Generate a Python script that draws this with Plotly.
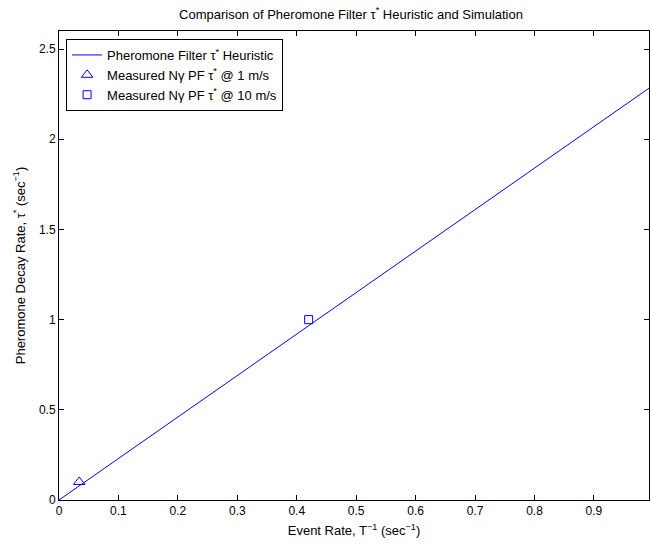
import plotly.graph_objects as go

# Data
line_x = [0.0, 1.0]
line_y = [0.0, 2.3]
meas1_x = [0.034]
meas1_y = [0.1]
meas10_x = [0.42]
meas10_y = [1.0]
x_ticks = [0, 0.1, 0.2, 0.3, 0.4, 0.5, 0.6, 0.7, 0.8, 0.9]
y_ticks = [0, 0.5, 1, 1.5, 2, 2.5]

BLUE = "rgb(0,0,255)"
FONT = "Liberation Sans, Arial, Helvetica, sans-serif"
FS = 12
FT = 13

fig = go.Figure()
fig.add_trace(go.Scatter(x=line_x, y=line_y, mode="lines",
                         line=dict(color=BLUE, width=1),
                         name="Pheromone Filter τ<sup>*</sup> Heuristic"))
fig.add_trace(go.Scatter(x=meas1_x, y=meas1_y, mode="markers",
                         marker=dict(symbol="triangle-up-open", size=10, color=BLUE,
                                     line=dict(width=1, color=BLUE)),
                         name="Measured Nγ PF τ<sup>*</sup> @ 1 m/s"))
fig.add_trace(go.Scatter(x=meas10_x, y=meas10_y, mode="markers",
                         marker=dict(symbol="square-open", size=8, color=BLUE,
                                     line=dict(width=1, color=BLUE)),
                         name="Measured Nγ PF τ<sup>*</sup> @ 10 m/s"))

axis_common = dict(showgrid=False, zeroline=False, showline=True, linecolor="black",
                   linewidth=1, mirror="ticks", ticks="inside", ticklen=5,
                   tickcolor="black", tickfont=dict(size=FS, color="black", family=FONT))

fig.update_layout(
    width=650, height=544,
    margin=dict(l=59, r=1, t=31, b=44),
    paper_bgcolor="white", plot_bgcolor="white",
    font=dict(family=FONT, size=FS, color="black"),
    title=dict(text="Comparison of Pheromone Filter τ<sup>*</sup> Heuristic and Simulation",
               x=351 / 650, xanchor="center", y=1 - 14 / 544, yanchor="middle",
               font=dict(size=FT, color="black", family=FONT)),
    xaxis=dict(range=[0, 0.9926], tickvals=x_ticks,
               ticktext=[str(v) for v in x_ticks],
               title=dict(text="Event Rate, T<sup>−1</sup> (sec<sup>−1</sup>)", standoff=8,
                          font=dict(size=FT)),
               **axis_common),
    yaxis=dict(range=[0, 2.6], tickvals=y_ticks,
               ticktext=[str(v) for v in y_ticks],
               title=dict(text="Pheromone Decay Rate, τ<sup>*</sup> (sec<sup>−1</sup>)", standoff=10,
                          font=dict(size=FT)),
               **axis_common),
    legend=dict(x=0.012, y=0.983, xanchor="left", yanchor="top",
                bordercolor="black", borderwidth=1, bgcolor="white",
                font=dict(size=FT, color="black", family=FONT),
                tracegroupgap=0, itemwidth=30),
    showlegend=True,
)

fig.write_html("out.html")
